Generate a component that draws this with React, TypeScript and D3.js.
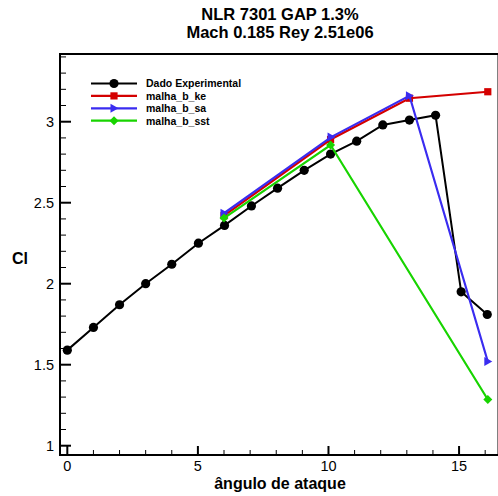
import React from "react";
import * as d3 from "d3";

const expAlpha = [0, 1, 2, 3, 4, 5.02, 6.02, 7.05, 8.05, 9.07, 10.08, 11.08, 12.08, 13.1, 14.1, 15.08, 16.08];
const expCl = [1.59, 1.73, 1.87, 2.0, 2.12, 2.25, 2.36, 2.48, 2.59, 2.7, 2.8, 2.88, 2.98, 3.01, 3.04, 1.95, 1.81];

const keAlpha = [6.0, 10.08, 13.1, 16.1];
const keCl = [2.42, 2.89, 3.145, 3.185];

const saAlpha = [6.0, 10.1, 13.1, 16.1];
const saCl = [2.435, 2.905, 3.16, 1.52];

const sstAlpha = [6.0, 10.08, 16.1];
const sstCl = [2.405, 2.856, 1.285];

const xMajor = [0, 5, 10, 15];
const xMinor = [1, 2, 3, 4, 6, 7, 8, 9, 11, 12, 13, 14, 16];
const yMajor = [1, 1.5, 2, 2.5, 3];
const yMinor = [1.1, 1.2, 1.3, 1.4, 1.6, 1.7, 1.8, 1.9, 2.1, 2.2, 2.3, 2.4, 2.6, 2.7, 2.8, 2.9, 3.1, 3.2, 3.3, 3.4];

const titleLines = ["NLR 7301 GAP 1.3%", "Mach 0.185 Rey 2.51e06"];
const legendNames = ["Dado Experimental", "malha_b_ke", "malha_b_sa", "malha_b_sst"];

const FONT = "'Liberation Sans', Arial, Helvetica, sans-serif";

type Kind = "circle" | "square" | "tri" | "diamond";

function Marker({ kind, x, y, color }: { kind: Kind; x: number; y: number; color: string }) {
  if (kind === "circle") return <circle cx={x} cy={y} r={4.6} fill={color} />;
  if (kind === "square") return <rect x={x - 3.6} y={y - 3.6} width={7.2} height={7.2} fill={color} />;
  if (kind === "tri")
    return <path d={`M${x + 4.5},${y} L${x - 3.5},${y - 4.5} L${x - 3.5},${y + 4.5} Z`} fill={color} />;
  return <path d={`M${x},${y - 4.5} L${x + 4.5},${y} L${x},${y + 4.5} L${x - 4.5},${y} Z`} fill={color} />;
}

export default function App() {
  const W = 498, H = 496;
  const left = 60, right = 498.5, top = 54, bottom = 455;
  const x = d3.scaleLinear().domain([-0.28, 16.51]).range([left, right]);
  const y = d3.scaleLinear().domain([0.9426, 3.418]).range([bottom, top]);

  const series: { xs: number[]; ys: number[]; color: string; kind: Kind; w: number }[] = [
    { xs: expAlpha, ys: expCl, color: "#000000", kind: "circle", w: 2 },
    { xs: keAlpha, ys: keCl, color: "#d40000", kind: "square", w: 2.2 },
    { xs: saAlpha, ys: saCl, color: "#3a2cf0", kind: "tri", w: 2.2 },
    { xs: sstAlpha, ys: sstCl, color: "#18d400", kind: "diamond", w: 2.2 },
  ];

  const line = d3.line<[number, number]>().x((d) => x(d[0])).y((d) => y(d[1]));

  return (
    <svg width={W} height={H} style={{ position: "absolute", left: 0, top: 0, background: "#fff" }} fontFamily={FONT}>
      <rect width={W} height={H} fill="#fff" />
      {titleLines.map((t, i) => (
        <text key={t} x={280} y={20 + i * 18} textAnchor="middle" fontSize={16.5} fontWeight="bold">
          {t}
        </text>
      ))}
      <defs>
        <clipPath id="plotclip">
          <rect x={left} y={top} width={right - left} height={bottom - top} />
        </clipPath>
      </defs>
      {/* ticks */}
      {xMajor.map((v) => (
        <g key={"xM" + v}>
          <line x1={x(v)} x2={x(v)} y1={bottom} y2={bottom - 9} stroke="#000" strokeWidth={2} />
          <text x={x(v)} y={471} textAnchor="middle" fontSize={14.5}>
            {v}
          </text>
        </g>
      ))}
      {xMinor.map((v) => (
        <line key={"xm" + v} x1={x(v)} x2={x(v)} y1={bottom} y2={bottom - 5} stroke="#000" strokeWidth={1} />
      ))}
      {yMajor.map((v) => (
        <g key={"yM" + v}>
          <line x1={left} x2={left + 11} y1={y(v)} y2={y(v)} stroke="#000" strokeWidth={2} />
          <text x={54} y={y(v) + 5} textAnchor="end" fontSize={14.5}>
            {v}
          </text>
        </g>
      ))}
      {yMinor.map((v) => (
        <line key={"ym" + v} x1={left} x2={left + 6} y1={y(v)} y2={y(v)} stroke="#000" strokeWidth={1} />
      ))}
      {/* frame */}
      <rect x={left} y={top} width={right - left} height={bottom - top} fill="none" stroke="#000" strokeWidth={2} />
      {/* data */}
      <g clipPath="url(#plotclip)">
        {series.map((s, i) => (
          <g key={i}>
            <path
              d={line(s.xs.map((v, j) => [v, s.ys[j]] as [number, number])) || ""}
              fill="none"
              stroke={s.color}
              strokeWidth={s.w}
            />
            {s.xs.map((v, j) => (
              <Marker key={j} kind={s.kind} x={x(v)} y={y(s.ys[j])} color={s.color} />
            ))}
          </g>
        ))}
      </g>
      {/* legend */}
      {series.map((s, i) => {
        const ly = 83.5 + i * 12.4;
        return (
          <g key={"lg" + i}>
            <line x1={91} x2={137} y1={ly} y2={ly} stroke={s.color} strokeWidth={s.w} />
            <Marker kind={s.kind} x={114} y={ly} color={s.color} />
            <text x={146} y={ly + 3.8} fontSize={10.5} fontWeight="bold">
              {legendNames[i]}
            </text>
          </g>
        );
      })}
      {/* axis titles */}
      <text x={280} y={489} textAnchor="middle" fontSize={16} fontWeight="bold">
        ângulo de ataque
      </text>
      <text x={20} y={264} textAnchor="middle" fontSize={16} fontWeight="bold">
        Cl
      </text>
    </svg>
  );
}
